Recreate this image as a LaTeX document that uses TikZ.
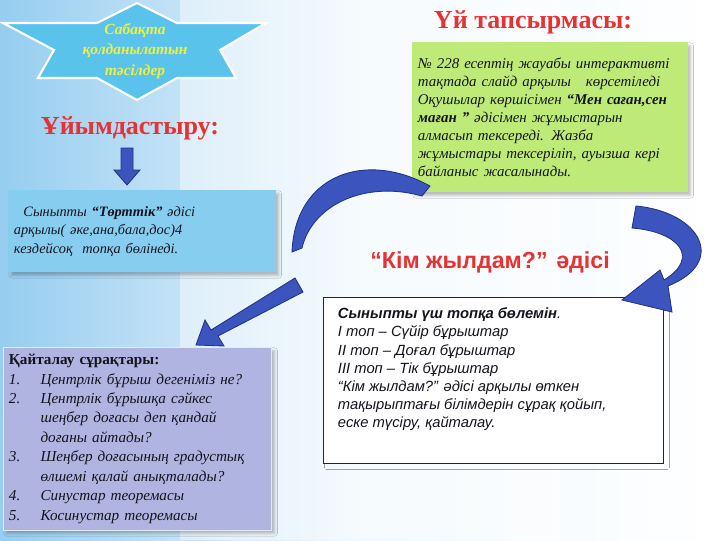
\documentclass[tikz,border=0pt]{standalone}
\usepackage{fontspec}
\setmainfont{Liberation Serif}
\setsansfont{Liberation Sans}
\usetikzlibrary{positioning, shadows.blur}
\definecolor{bgBlue}{RGB}{150, 205, 240}
\definecolor{starBlue}{RGB}{90, 195, 235}
\definecolor{starText}{RGB}{240, 240, 60}
\definecolor{titleRed}{RGB}{230, 50, 50}
\definecolor{arrowBlue}{RGB}{60, 85, 190}
\definecolor{arrowEdge}{RGB}{35, 50, 130}
\definecolor{greenBox}{RGB}{190, 235, 120}
\definecolor{blueBox}{RGB}{135, 205, 240}
\definecolor{lilacBox}{RGB}{175, 180, 225}
\definecolor{navyLine}{RGB}{25, 35, 80}
\definecolor{textDark}{RGB}{20, 20, 30}
\tikzset{
    title/.style={
        font=\bfseries\fontsize{18.5}{20}\selectfont,
        text=titleRed
    },
    card/.style={
        rectangle,
        draw=none,
        blur shadow={shadow blur steps=5, shadow opacity=25},
        inner sep=6pt,
        align=left,
        anchor=north west,
        text=textDark
    },
    fatArrow/.style={
        fill=arrowBlue,
        draw=arrowEdge,
        line width=0.6pt
    }
}
\begin{document}
\begin{tikzpicture}[x=0.025cm, y=-0.025cm]
    \useasboundingbox (0,0) rectangle (720,540);
    % background
    \shade[left color=bgBlue, right color=white, middle color=white!85!bgBlue] (0,0) rectangle (720,540);
    \fill[white, opacity=0.45] (180,0) rectangle (560,540);

    % Star banner
    \filldraw[fill=starBlue, draw=white, line width=1.5pt]
        (3,23) -- (97,23) -- (137,3) -- (177,23) -- (266,23) -- (220,50)
        -- (236,78) -- (177,78) -- (137,100) -- (97,78) -- (38,78) -- (54,50) -- cycle;
    \node[font=\bfseries\itshape\fontsize{11}{14.5}\selectfont, text=starText, align=center] (star) at (135,51) {Сабақта\\қолданылатын\\тәсілдер};

    % Titles
    \node[title] (org) at (130,128) {Ұйымдастыру:};
    \node[title] (home) at (533,22) {Үй тапсырмасы:};
    \node[title, font=\sffamily\bfseries\fontsize{16.5}{18}\selectfont] (fast) at (490,262) {“Кім жылдам?” әдісі};

    % Cards
    \node[card, fill=greenBox, text width=264*0.025cm, minimum height=150*0.025cm, inner sep=4pt,
        font=\itshape\fontsize{10.6}{12.9}\selectfont] (homework) at (412,42)
        {№ 228 есептің жауабы интерактивті\\тақтада слайд арқылы \ \ көрсетіледі\\Оқушылар көршісімен \textbf{“Мен саған,сен}\\\textbf{маған ”} әдісімен жұмыстарын\\алмасып тексереді. Жазба\\жұмыстары тексеріліп, ауызша кері\\байланыс жасалынады.};
    \node[card, fill=blueBox, text width=256*0.025cm, minimum height=82*0.025cm, inner sep=4pt,
        font=\itshape\fontsize{10.2}{13.2}\selectfont] (four) at (8,190)
        {\ \ Сыныпты \textbf{“Төрттік”} әдісі\\арқылы( әке,ана,бала,дос)4\\кездейсоқ \ топқа бөлінеді.};
    \node[card, fill=lilacBox, draw=white!70!lilacBox, text width=257*0.025cm, minimum height=183*0.025cm,
        font=\fontsize{10.8}{13.8}\selectfont, inner sep=4pt] (review) at (3,347)
        {\textbf{Қайталау сұрақтары:}\\
        \itshape 1.\quad\ Центрлік бұрыш дегеніміз не?\\
        \itshape 2.\quad\ Центрлік бұрышқа сәйкес\\
        \itshape \phantom{2.}\quad\ шеңбер доғасы деп қандай\\
        \itshape \phantom{2.}\quad\ доғаны айтады?\\
        \itshape 3.\quad\ Шеңбер доғасының градустық\\
        \itshape \phantom{2.}\quad\ өлшемі қалай анықталады?\\
        \itshape 4.\quad\ Синустар теоремасы\\
        \itshape 5.\quad\ Косинустар теоремасы};
    \node[card, fill=white, draw=navyLine, line width=1pt, minimum width=340*0.025cm, minimum height=166*0.025cm,
        inner sep=0pt, blur shadow={shadow opacity=0}] (groups) at (323,297) {};
    \node[anchor=north west, align=left, text=textDark,
        font=\sffamily\itshape\fontsize{10.5}{12.9}\selectfont] (groupText) at (333,303)
        {\textbf{Сыныпты үш топқа бөлемін}.\\І топ -- Сүйір бұрыштар\\ІІ топ -- Доғал бұрыштар\\ІІІ топ -- Тік бұрыштар\\“Кім жылдам?” әдісі арқылы өткен\\тақырыптағы білімдерін сұрақ қойып,\\еске түсіру, қайталау.};

    % Down arrow
    \filldraw[fatArrow] (121,148) -- (133,148) -- (133,170) -- (140,170) -- (127,185)
        -- (114,170) -- (121,170) -- cycle;

    % Curved band towards the left
    \filldraw[fatArrow] (430,186) .. controls (365,150) and (295,175) .. (292,252)
        -- (302,248) .. controls (312,205) and (365,180) .. (422,196) -- cycle;

    % Curved arrow on the right
    \filldraw[fatArrow] (636,206) .. controls (700,212) and (728,262) .. (668,286)
        -- (672,312) -- (622,300) -- (660,270) -- (664,280)
        .. controls (700,258) and (680,232) .. (632,228) -- cycle;

    % Straight arrow down-left
    \filldraw[fatArrow] (295,278) -- (303,292) -- (218,336) -- (224,346) -- (196,345)
        -- (205,320) -- (211,330) -- cycle;
\end{tikzpicture}
\end{document}
